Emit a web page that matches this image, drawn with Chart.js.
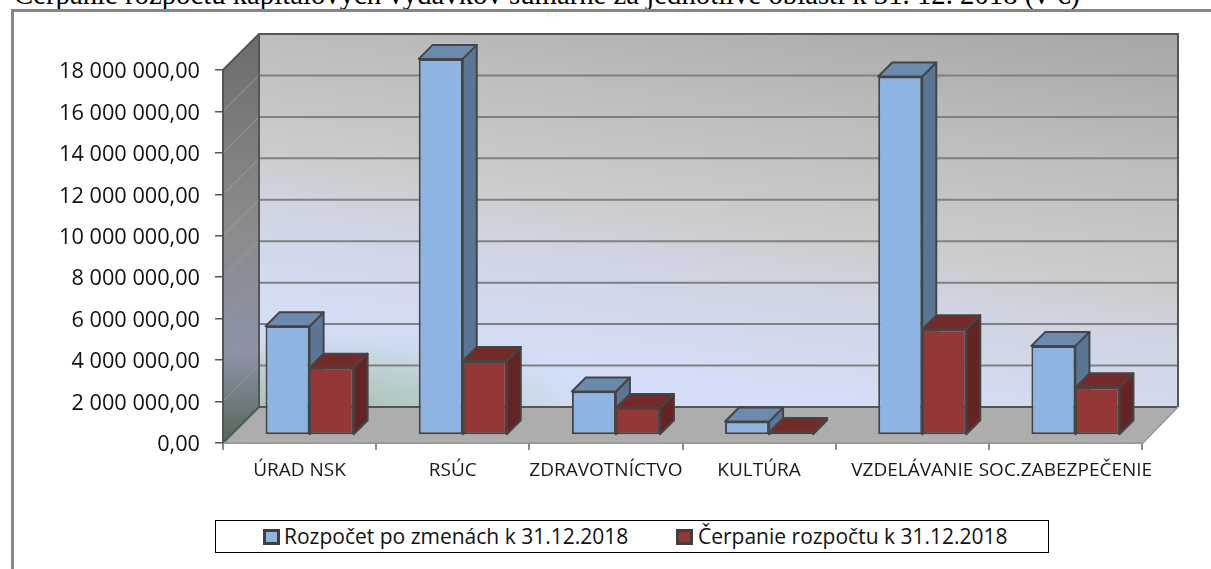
<!DOCTYPE html>
<html lang="sk">
<head>
<meta charset="utf-8">
<title>Čerpanie rozpočtu</title>
<script src="https://cdn.jsdelivr.net/npm/chart.js@4"></script>
<style>
  html, body { margin: 0; padding: 0; background: #fff; overflow: hidden; }
  #wrap { position: relative; width: 1211px; height: 569px; overflow: hidden; }
  #chart { position: absolute; left: 0; top: 0; }
  #title { position: absolute; left: 14px; top: -20px; white-space: nowrap; color: #000;
           font: 28.75px "Liberation Serif", serif; line-height: 28px; }
  #frame { position: absolute; left: 11px; top: 9px; right: -5px; bottom: -5px;
           border: 3px solid #868686; }
  #legend { position: absolute; left: 215px; top: 520px; width: 832px; height: 31px;
            border: 1px solid #000; background: #fff; color: #111;
            font: 21px "Open Sans", sans-serif; line-height: 31px; white-space: nowrap; }
  #legend span { position: absolute; top: 0; }
  #legend i { position: absolute; top: 8px; width: 11px; height: 10px; border: 3px solid #404040; }
</style>
</head>
<body>
<div id="wrap">
  <div id="title"></div>
  <div id="frame"></div>
  <canvas id="chart" width="1211" height="569"></canvas>
  <div id="legend"></div>
</div>
<script>
const titleText = 'Čerpanie rozpočtu kapitálových výdavkov sumárne za jednotlivé oblasti k 31. 12. 2018 (v €)';
const categories = ['ÚRAD NSK', 'RSÚC', 'ZDRAVOTNÍCTVO', 'KULTÚRA', 'VZDELÁVANIE', 'SOC.ZABEZPEČENIE'];
const seriesNames = ['Rozpočet po zmenách k 31.12.2018', 'Čerpanie rozpočtu k 31.12.2018'];
const budget = [5250000, 18150000, 2100000, 650000, 17300000, 4300000];
const spent = [3250000, 3570000, 1300000, 140000, 5100000, 2300000];
const yTicks = [0, 2000000, 4000000, 6000000, 8000000, 10000000, 12000000, 14000000, 16000000, 18000000];

const FRONT = ['#8DB4E3', '#953735'];
const TOP = ['#6C8AAE', '#722B29'];
const SIDE = ['#5B7595', '#632523'];
const EDGE = '#454545';

const WALL_DEPTH = 36;   // back wall offset from the front axes
const BAR_SHIFT = 9;     // bars stand this far in from the front edge
const BAR_DEPTH = 14;

function fmt(n) {
  const s = Math.round(n).toString().replace(/\B(?=(\d{3})+$)/g, ' ');
  return s + ',00';
}

function poly(ctx, pts, fill, stroke, lw) {
  ctx.beginPath();
  pts.forEach((p, i) => i ? ctx.lineTo(p[0], p[1]) : ctx.moveTo(p[0], p[1]));
  ctx.closePath();
  if (fill) { ctx.fillStyle = fill; ctx.fill(); }
  if (stroke) { ctx.strokeStyle = stroke; ctx.lineWidth = lw || 1; ctx.stroke(); }
}

const box3d = {
  id: 'box3d',
  beforeDraw(chart) {
    const { ctx, chartArea: a, scales: { y } } = chart;
    const d = WALL_DEPTH;
    const bl = a.left + d, br = a.right + d, bt = a.top - d, bb = a.bottom - d;

    // back wall
    ctx.save();
    const wall = [[bl, bt], [br, bt], [br, bb], [bl, bb]];
    let g = ctx.createLinearGradient(br, bt, br - 75, bb + 126);
    g.addColorStop(0, '#a6a6a6');
    g.addColorStop(0.27, '#bdbdbd');
    g.addColorStop(0.5, '#cccccc');
    g.addColorStop(0.6, '#d0d4e2');
    g.addColorStop(0.85, '#d5dffa');
    g.addColorStop(1, '#d5dffa');
    poly(ctx, wall, g);

    // green glow in the lower left corner
    ctx.save();
    ctx.beginPath();
    ctx.rect(bl, bt, br - bl, bb - bt);
    ctx.clip();
    ctx.translate(bl + 50, bb + 8);
    ctx.scale(1, 0.3);
    g = ctx.createRadialGradient(0, 0, 0, 0, 0, 330);
    g.addColorStop(0, 'rgba(160,185,160,0.95)');
    g.addColorStop(0.5, 'rgba(175,200,190,0.65)');
    g.addColorStop(1, 'rgba(205,220,240,0)');
    ctx.fillStyle = g;
    ctx.fillRect(-400, -400, 800, 800);
    ctx.restore();

    // left wall
    const left = [[a.left, a.top], [bl, bt], [bl, bb], [a.left, a.bottom]];
    g = ctx.createLinearGradient(0, bt, 0, a.bottom);
    g.addColorStop(0, '#6c6c6c');
    g.addColorStop(0.45, '#8a8a8a');
    g.addColorStop(0.78, '#8c93a8');
    g.addColorStop(1, '#566656');
    poly(ctx, left, g);

    // floor
    poly(ctx, [[a.left, a.bottom + 1], [a.right, a.bottom + 1], [br, bb], [bl, bb]], '#ADADAD');

    // grid lines on the back and left walls
    yTicks.forEach(v => {
      const py = y.getPixelForValue(v);
      if (v > 0 && v < yTicks[yTicks.length - 1]) {
        ctx.strokeStyle = '#9b9b9b';
        ctx.lineWidth = 1;
        ctx.beginPath();
        ctx.moveTo(a.left, py);
        ctx.lineTo(bl, py - d);
        ctx.stroke();
      }
      if (v < yTicks[yTicks.length - 1]) {
        ctx.strokeStyle = v === 0 ? '#555' : '#808080';
        ctx.lineWidth = 2;
        ctx.beginPath();
        ctx.moveTo(bl, py - d);
        ctx.lineTo(br, py - d);
        ctx.stroke();
      }
    });

    // wall outlines
    ctx.strokeStyle = '#555';
    ctx.lineWidth = 2;
    ctx.beginPath();
    ctx.moveTo(a.left, a.top);
    ctx.lineTo(bl, bt);
    ctx.lineTo(br, bt);
    ctx.lineTo(br, bb);
    ctx.moveTo(bl, bt);
    ctx.lineTo(bl, bb);
    ctx.lineTo(a.left, a.bottom);
    ctx.stroke();
    ctx.strokeStyle = '#999';
    ctx.lineWidth = 1.5;
    ctx.beginPath();
    ctx.moveTo(a.right, a.bottom + 1);
    ctx.lineTo(br, bb);
    ctx.stroke();
    ctx.restore();
  },
  beforeDatasetsDraw(chart) {
    const { ctx } = chart;
    const dp = BAR_DEPTH;
    ctx.save();
    ctx.translate(BAR_SHIFT + 1, -BAR_SHIFT + 1);
    ctx.lineJoin = 'round';
    chart.data.datasets.forEach((ds, i) => {
      chart.getDatasetMeta(i).data.forEach(bar => {
        const hw = bar.width / 2, l = bar.x - hw, r = bar.x + hw;
        const t = bar.y, b = bar.base;
        poly(ctx, [[r, t], [r + dp, t - dp], [r + dp, b - dp], [r, b]], SIDE[i], EDGE, 2);
        poly(ctx, [[l, t], [l + dp, t - dp], [r + dp, t - dp], [r, t]], TOP[i], EDGE, 2);
      });
    });
  },
  afterDatasetsDraw(chart) {
    chart.ctx.restore();
  }
};

document.getElementById('title').textContent = titleText;

new Chart(document.getElementById('chart').getContext('2d'), {
  type: 'bar',
  data: {
    labels: categories,
    datasets: [
      { label: seriesNames[0], data: budget, backgroundColor: FRONT[0] },
      { label: seriesNames[1], data: spent, backgroundColor: FRONT[1] }
    ].map(ds => ({ ...ds, borderColor: EDGE, borderWidth: 2, borderSkipped: false, clip: false }))
  },
  options: {
    responsive: false,
    animation: false,
    events: [],
    categoryPercentage: 0.575,
    barPercentage: 1,
    layout: { padding: { top: 70, bottom: 0, left: 0, right: 69 } },
    plugins: { legend: { display: false }, title: { display: false }, tooltip: { enabled: false } },
    scales: {
      x: {
        afterFit: s => { s.height = 126; },
        grid: { drawOnChartArea: false, color: '#8a8a8a', lineWidth: 2, tickLength: 7, offset: true },
        border: { color: '#9a9a9a', width: 2 },
        ticks: { color: '#1a1a1a', maxRotation: 0, autoSkip: false, padding: 9,
                 font: { family: 'Open Sans', size: 19 } }
      },
      y: {
        min: 0,
        max: 18000000,
        afterFit: s => { s.width = 223; },
        afterBuildTicks: s => { s.ticks = yTicks.map(v => ({ value: v })); },
        grid: { drawOnChartArea: false, color: '#555', lineWidth: 1.5, tickLength: 8 },
        border: { color: '#555', width: 2 },
        ticks: { color: '#111', padding: 15, labelOffset: 2, callback: v => fmt(v),
                 font: { family: 'Open Sans', size: 21.7 } }
      }
    }
  },
  plugins: [box3d]
});

// legend box sits off-centre in the source, so it is laid out by hand
const swatchX = [47, 460];
const labelX = [68, 482];
document.getElementById('legend').innerHTML = seriesNames.map((name, i) =>
  `<i style="left:${swatchX[i]}px;background:${FRONT[i]}"></i><span style="left:${labelX[i]}px">${name}</span>`
).join('');
</script>
</body>
</html>
